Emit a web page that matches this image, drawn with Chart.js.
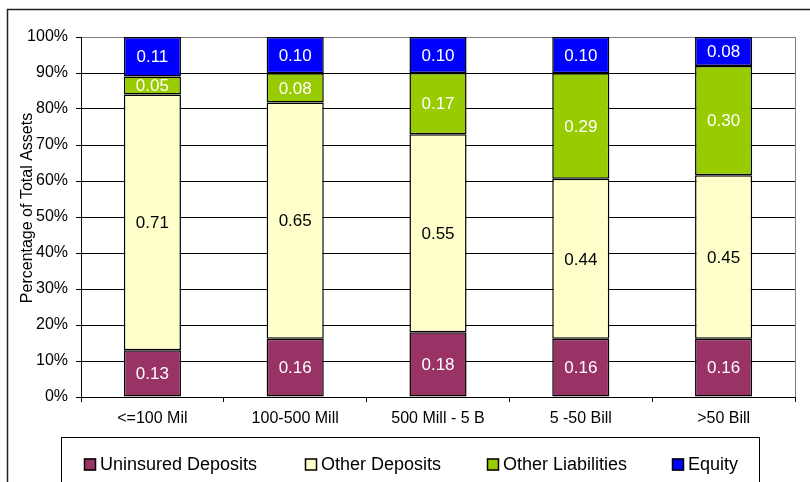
<!DOCTYPE html>
<html>
<head>
<meta charset="utf-8">
<script src="https://cdn.jsdelivr.net/npm/chart.js@4/dist/chart.umd.min.js"></script>
<style>
  html, body { margin: 0; padding: 0; background: #fff; }
  #wrap { width: 810px; height: 482px; }
</style>
</head>
<body>
<div id="wrap"><canvas id="chart"></canvas></div>
<script>
// data
const categories = ['<=100 Mil', '100-500 Mill', '500 Mill - 5 B', '5 -50 Bill', '>50 Bill'];
const uninsuredDeposits = [0.13, 0.16, 0.18, 0.16, 0.16];
const otherDeposits     = [0.71, 0.65, 0.55, 0.44, 0.45];
const otherLiabilities  = [0.05, 0.08, 0.17, 0.29, 0.30];
const equity            = [0.11, 0.10, 0.10, 0.10, 0.08];

const seriesNames = ['Uninsured Deposits', 'Other Deposits', 'Other Liabilities', 'Equity'];
const seriesValues = [uninsuredDeposits, otherDeposits, otherLiabilities, equity];
const seriesColors = ['#993366', '#FFFFCC', '#99CC00', '#0000FF'];
const labelColors = ['#fff', '#000', '#fff', '#fff'];
const yTitle = 'Percentage of Total Assets';

const FONT = '"Liberation Sans", Arial, sans-serif';

// 100% stacked: each column is scaled to its own total
const totals = categories.map((_, i) => seriesValues.reduce((s, arr) => s + arr[i], 0));

const datasets = seriesNames.map((name, k) => ({
  label: name,
  raw: seriesValues[k],
  data: seriesValues[k].map((v, i) => v / totals[i] * 100),
  backgroundColor: seriesColors[k],
  borderColor: '#000',
  borderWidth: 1.5,
  borderSkipped: false,
  categoryPercentage: 0.4,
  barPercentage: 1.0
}));

// frame, plot border, axis title and legend box
const framePlugin = {
  id: 'frame',
  beforeDraw(chart) {
    const c = chart.ctx;
    c.save();
    c.strokeStyle = '#222';
    c.lineWidth = 1.5;
    c.strokeRect(7.5, 9.5, 900, 600);
    c.restore();
  },
  beforeDatasetsDraw(chart) {
    const c = chart.ctx, a = chart.chartArea;
    c.save();
    c.strokeStyle = '#808080';
    c.lineWidth = 1;
    c.beginPath();
    c.moveTo(Math.round(a.right) + 0.5, a.top);
    c.lineTo(Math.round(a.right) + 0.5, a.bottom);
    c.stroke();
    c.restore();
  },
  afterDraw(chart) {
    const c = chart.ctx;
    c.save();
    // y axis title (sits a little above the plot centre, like the original)
    c.translate(28, 208);
    c.rotate(-Math.PI / 2);
    c.font = '16px ' + FONT;
    c.fillStyle = '#000';
    c.textAlign = 'center';
    c.textBaseline = 'middle';
    c.fillText(yTitle, 0, 0);
    c.restore();

    c.save();
    c.strokeStyle = '#000';
    c.lineWidth = 1;
    c.strokeRect(61.5, 437.5, 698, 100);
    const xs = [84, 305, 487, 672];
    const cy = 464.5;
    c.font = '18px ' + FONT;
    c.textBaseline = 'middle';
    c.textAlign = 'left';
    chart.data.datasets.forEach((ds, k) => {
      c.fillStyle = ds.backgroundColor;
      c.fillRect(xs[k], cy - 6, 12, 12);
      c.strokeStyle = '#000';
      c.lineWidth = 1.5;
      c.strokeRect(xs[k] + 0.5, cy - 5.5, 11, 11);
      c.fillStyle = '#000';
      c.fillText(ds.label, xs[k] + 16, cy + 1);
    });
    c.restore();
  }
};

// value labels centred in each segment
const valueLabels = {
  id: 'valueLabels',
  afterDatasetsDraw(chart) {
    const c = chart.ctx;
    c.save();
    c.font = '17px ' + FONT;
    c.textAlign = 'center';
    c.textBaseline = 'middle';
    chart.data.datasets.forEach((ds, k) => {
      const meta = chart.getDatasetMeta(k);
      meta.data.forEach((bar, i) => {
        c.fillStyle = labelColors[k];
        c.fillText(ds.raw[i].toFixed(2), bar.x, (bar.y + bar.base) / 2 + 1);
      });
    });
    c.restore();
  }
};

new Chart(document.getElementById('chart').getContext('2d'), {
  type: 'bar',
  data: { labels: categories, datasets },
  plugins: [framePlugin, valueLabels],
  options: {
    responsive: true,
    maintainAspectRatio: false,
    animation: false,
    layout: { padding: { left: 15, right: 15, top: 37, bottom: 0 } },
    plugins: { legend: { display: false }, tooltip: { enabled: false } },
    scales: {
      x: {
        stacked: true,
        afterFit: s => { s.height = 85; },
        grid: { display: true, drawOnChartArea: false, offset: true, tickLength: 5, color: '#000' },
        border: { color: '#000', width: 1 },
        ticks: { color: '#000', font: { family: FONT, size: 16 }, padding: 7, maxRotation: 0 }
      },
      y: {
        stacked: true,
        min: 0,
        max: 100,
        afterFit: s => { s.width = 66; },
        grid: {
          color: ctx => (ctx.tick && ctx.tick.value === 100 ? '#808080' : '#000'),
          tickColor: '#000',
          tickLength: 5,
          lineWidth: 1
        },
        border: { color: '#000', width: 1 },
        ticks: {
          stepSize: 10,
          color: '#000',
          padding: 8,
          font: { family: FONT, size: 16 },
          callback: v => v + '%'
        }
      }
    }
  }
});
</script>
</body>
</html>
